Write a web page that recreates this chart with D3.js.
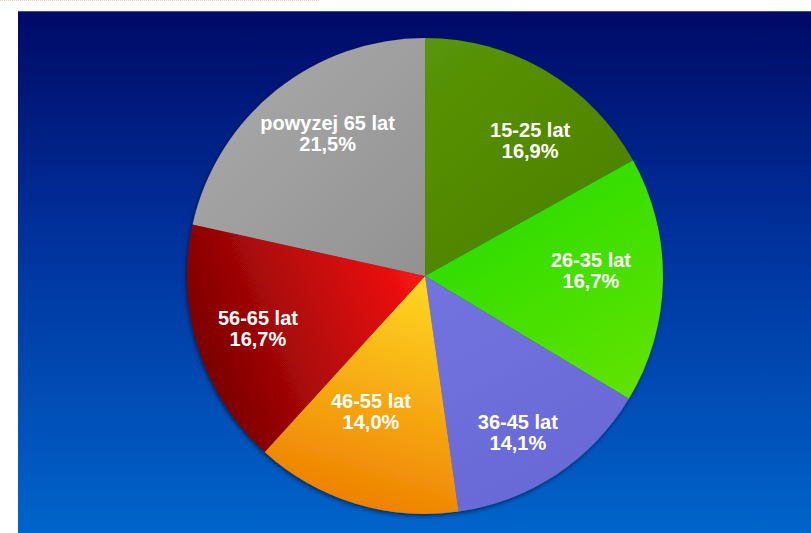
<!DOCTYPE html>
<html><head><meta charset="utf-8">
<script src="https://cdn.jsdelivr.net/npm/d3@7/dist/d3.min.js"></script>
<style>html,body{margin:0;padding:0;background:#fff;overflow:hidden}</style>
</head><body>
<svg id="chart" width="811" height="533"></svg>
<script>
const categories = ["15-25 lat", "26-35 lat", "36-45 lat", "46-55 lat", "56-65 lat", "powyzej 65 lat"];
const values = [16.9, 16.7, 14.1, 14.0, 16.7, 21.5];
const valueLabels = ["16,9%", "16,7%", "14,1%", "14,0%", "16,7%", "21,5%"];

// styling / layout (not data)
const gradStops = [
  ["#5a9808", "#4a7a00"],
  ["#1cdc00", "#74e400"],
  ["#7474e0", "#6868d6"],
  ["#ffd824", "#ee7e00"],
  ["#ff1414", "#760000"],
  ["#a4a4a4", "#929292"]
];
const gradDirs = [
  [[-0.2,-1],[0.8,0.2]],
  [[0,-0.5],[0.9,0.9]],
  [[0,0],[0.5,1]],
  [[0,0],[-0.3,1]],
  [[0,-0.1],[-1,0.3]],
  [[-0.7,-0.7],[0,0]]
];
const labelNudge = [[19,14],[-4,-6],[-1,17],[-4,-24],[-5,4],[9,-7]];

const svg = d3.select("#chart");
const W = 811, H = 533;
const defs = svg.append("defs");

const bg = defs.append("linearGradient").attr("id","bg").attr("x1",0).attr("y1",0).attr("x2",0).attr("y2",1);
bg.append("stop").attr("offset",0).attr("stop-color","#000966");
bg.append("stop").attr("offset",0.45).attr("stop-color","#00339e");
bg.append("stop").attr("offset",1).attr("stop-color","#0064ca");

const f = defs.append("filter").attr("id","sh").attr("x","-10%").attr("y","-10%").attr("width","120%").attr("height","120%");
f.append("feDropShadow").attr("dx",-1).attr("dy",2).attr("stdDeviation",2).attr("flood-color","#000").attr("flood-opacity",0.55);

svg.append("line").attr("x1",0).attr("x2",320).attr("y1",0.5).attr("y2",0.5)
  .attr("stroke","#f0b890").attr("stroke-width",1).attr("stroke-dasharray","1,1").attr("opacity",0.7);

svg.append("rect").attr("x",18).attr("y",11).attr("width",W-18).attr("height",H-11).attr("fill","url(#bg)");
svg.append("line").attr("x1",18).attr("x2",W).attr("y1",11.5).attr("y2",11.5).attr("stroke","#3050a8").attr("stroke-width",1);

const cx = 425, cy = 276, R = 238;
const g = svg.append("g").attr("transform",`translate(${cx},${cy})`);

gradStops.forEach((s,i)=>{
  const d = gradDirs[i];
  const lg = defs.append("linearGradient").attr("id","g"+i).attr("gradientUnits","userSpaceOnUse")
    .attr("x1",d[0][0]*R).attr("y1",d[0][1]*R).attr("x2",d[1][0]*R).attr("y2",d[1][1]*R);
  lg.append("stop").attr("offset",0).attr("stop-color",s[0]);
  lg.append("stop").attr("offset",1).attr("stop-color",s[1]);
});

const pie = d3.pie().sort(null).value(d=>d);
const arcs = pie(values);
const arc = d3.arc().innerRadius(0).outerRadius(R);
const labelArc = d3.arc().innerRadius(170).outerRadius(170);

const pg = g.append("g").attr("filter","url(#sh)");
pg.selectAll("path").data(arcs).join("path")
  .attr("d",arc).attr("fill",(d,i)=>`url(#g${i})`);

const lbl = g.selectAll("text.l").data(arcs).join("text").attr("class","l")
  .attr("transform",(d,i)=>{
    const c = labelArc.centroid(d);
    return `translate(${c[0]+labelNudge[i][0]},${c[1]+labelNudge[i][1]})`;
  })
  .attr("text-anchor","middle")
  .attr("font-family","'Liberation Sans', Arial, sans-serif")
  .attr("font-weight","bold").attr("font-size",20).attr("fill","#fff");
lbl.append("tspan").attr("x",0).attr("dy","-0.3em").text((d,i)=>categories[i]);
lbl.append("tspan").attr("x",0).attr("dy","1.05em").text((d,i)=>valueLabels[i]);
</script>
</body></html>
